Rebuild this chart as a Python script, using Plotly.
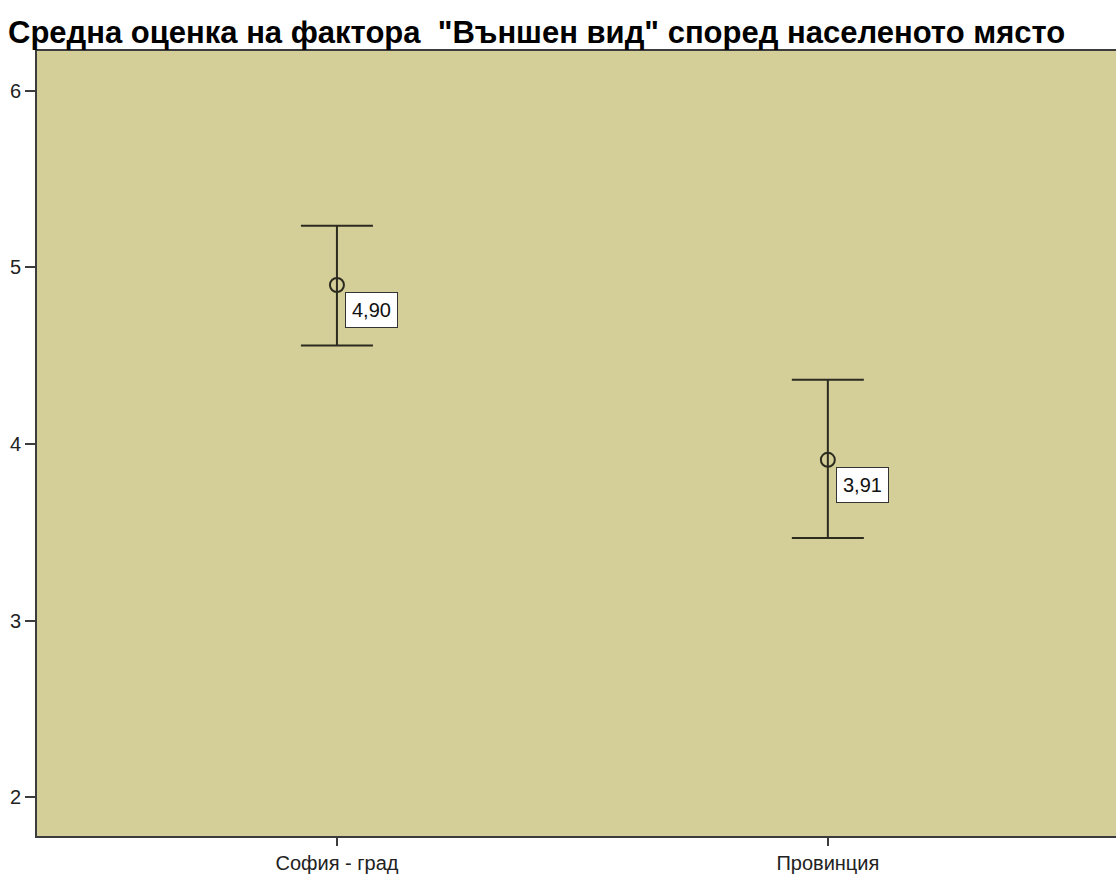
import plotly.graph_objects as go

categories = ["София - град", "Провинция"]
means = [4.90, 3.91]
upper = [5.235, 4.363]
lower = [4.558, 3.467]
y_ticks = [2, 3, 4, 5, 6]
title_text = 'Средна оценка на фактора  "Външен вид" според населеното място'

xpos = list(range(len(categories)))
err_plus = [u - m for u, m in zip(upper, means)]
err_minus = [m - l for m, l in zip(means, lower)]
line_col = "#2b2b1f"
axis_col = "#3c3c3c"
FONT = "Liberation Sans, Arial"

fig = go.Figure()
fig.add_trace(go.Scatter(
    x=xpos, y=means, mode="markers",
    marker=dict(symbol="circle-open", size=14, color=line_col, line=dict(width=2, color=line_col)),
    error_y=dict(type="data", symmetric=False, array=err_plus, arrayminus=err_minus,
                 color=line_col, thickness=2, width=36),
    showlegend=False, hoverinfo="skip",
))

for x, m in zip(xpos, means):
    fig.add_annotation(
        x=x, y=m, xref="x", yref="y",
        text=f"{m:.2f}".replace(".", ","),
        showarrow=False, xanchor="left", yanchor="top", xshift=8, yshift=-7,
        bgcolor="white", bordercolor="#333333", borderwidth=1, borderpad=6,
        font=dict(family=FONT, size=20, color="#111111"),
    )

fig.update_layout(
    width=1116, height=876,
    margin=dict(l=37, r=0, t=51, b=40),
    paper_bgcolor="white", plot_bgcolor="#D4CE98",
    title=dict(text="<b>" + title_text + "</b>", x=8 / 1116, xanchor="left",
               y=1 - 32 / 876, yanchor="middle", xref="container", yref="container",
               font=dict(family=FONT, size=31, color="#000000")),
    font=dict(family=FONT, size=20, color="#222222"),
)
fig.update_xaxes(
    range=[-0.611, 1.587], tickvals=xpos, ticktext=categories, automargin=False,
    showgrid=False, zeroline=False, showline=True, mirror=True,
    linecolor=axis_col, linewidth=2, ticks="outside", ticklen=8, tickwidth=2,
    tickcolor=axis_col, tickfont=dict(family=FONT, size=20, color="#222222"),
)
fig.update_yaxes(
    range=[1.78, 6.225], tickvals=y_ticks, ticktext=[str(v) for v in y_ticks], automargin=False,
    showgrid=False, zeroline=False, showline=True, mirror=False,
    linecolor=axis_col, linewidth=2, ticks="outside", ticklen=10, tickwidth=2,
    tickcolor=axis_col, tickfont=dict(family=FONT, size=20, color="#222222"),
)

fig.write_html(
    "out.html",
    config={"displayModeBar": False},
    post_script="document.body.style.margin='0';document.body.style.overflow='hidden';",
)
